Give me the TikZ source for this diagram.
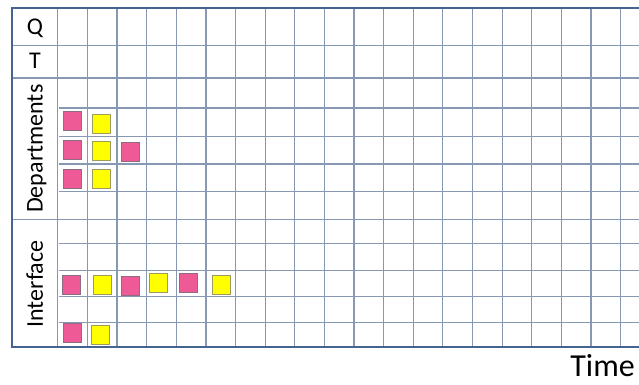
\documentclass[tikz,border=0pt]{standalone}
\usepackage{fontspec}
\setmainfont{Carlito}
\definecolor{gridc}{HTML}{8799B2}
\definecolor{framec}{HTML}{46648F}
\definecolor{pinkc}{HTML}{EE5A95}
\definecolor{pinkd}{HTML}{8E6C84}
\definecolor{yelc}{HTML}{FFFF00}
\definecolor{yeld}{HTML}{9C9C5C}
\begin{document}
\begin{tikzpicture}[x=1pt,y=-1pt,
  gridline/.style={draw=gridc,line width=1.2pt},
  frameline/.style={draw=framec,line width=2.6pt},
  lbl/.style={inner sep=0pt,font=\fontsize{24}{26}\selectfont},
  rlbl/.style={inner sep=0pt,rotate=90,anchor=base,font=\fontsize{24}{26}\selectfont},
  sq/.style={minimum width=18pt,minimum height=19pt,inner sep=0pt,line width=1.1pt},
  pk/.style={sq,fill=pinkc,draw=pinkd},
  yl/.style={sq,fill=yelc,draw=yeld}]
\useasboundingbox (0,0) rectangle (639,385);
\clip (0,0) rectangle (639,385);
\fill[white] (0,0) rectangle (639,385);
% grid
\foreach \y in {45.7,78,219.3}
  \draw[gridline] (12,\y) -- (650,\y);
\foreach \y in {108,136.7,164,191.7,243.3,270.7,296.7,322.7}
  \draw[gridline] (58.5,\y) -- (650,\y);
\foreach \k in {0,...,19}
  \draw[gridline] ({57.8+29.62*\k},8) -- ({57.8+29.62*\k},347);
\draw[frameline] (650,8) -- (12,8) -- (12,347) -- (650,347);
% labels
\node[lbl] (q) at (35,28) {Q};
\node[lbl] (t) at (35,61) {T};
\node[rlbl] (dep) at (42.5,148.7) {Departments};
\node[rlbl] (int) at (42.8,284) {Interface};
\node[inner sep=0pt,anchor=base east,font=\fontsize{32}{34}\selectfont] (time) at (635,376.5) {Time};
% departments squares
\node[pk] (d11) at (72.2,121.2) {};
\node[yl] (d12) at (101.2,124.2) {};
\node[pk] (d21) at (72.2,150) {};
\node[yl] (d22) at (101.5,150.7) {};
\node[pk] (d23) at (130.2,152.3) {};
\node[pk] (d31) at (72.2,179.3) {};
\node[yl] (d32) at (101.2,179.2) {};
% interface squares
\node[pk] (i1) at (71.8,284.7) {};
\node[yl] (i2) at (102.2,284.7) {};
\node[pk] (i3) at (130.2,286.2) {};
\node[yl] (i4) at (158.8,283) {};
\node[pk] (i5) at (188.2,283.3) {};
\node[yl] (i6) at (221.2,284.7) {};
\node[pk] (j1) at (72.5,333) {};
\node[yl] (j2) at (100.5,334.8) {};
\end{tikzpicture}
\end{document}
